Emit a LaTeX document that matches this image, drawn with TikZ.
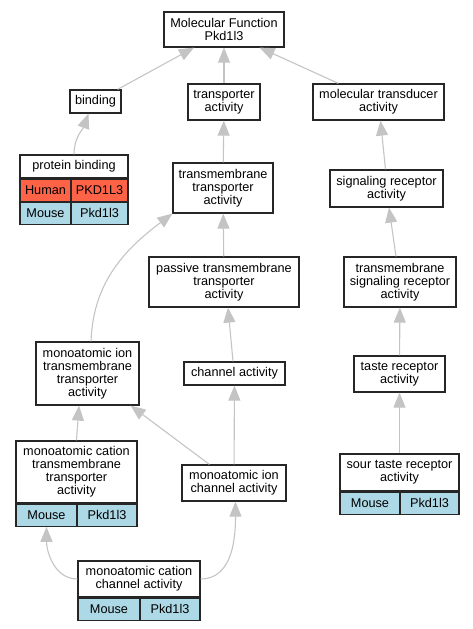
\documentclass[tikz,border=0pt]{standalone}
\usepackage{fontspec}
\setmainfont{Liberation Sans}
\usepackage{tikz}
\usepackage{xcolor}
\usetikzlibrary{calc}
\usetikzlibrary{arrows.meta}
\definecolor{humancolor}{HTML}{FF6347}
\definecolor{mousecolor}{HTML}{ADD8E6}
\definecolor{edgecolorb}{HTML}{C4C4C4}
\colorlet{bordercolor}{black!85}
\colorlet{edgecolor}{edgecolorb}
\tikzstyle{term} = [
    draw=bordercolor,
    fill=white,
    line width=1.2pt,
    rectangle,
    align=center,
    inner sep=2pt,
    font=\fontsize{12.7}{13}\selectfont
    ]
\tikzstyle{cell} = [
    term,
    minimum height=22pt
    ]
\tikzstyle{human} = [cell, fill=humancolor]
\tikzstyle{mouse} = [cell, fill=mousecolor]
\tikzstyle{isa} = [
    draw=edgecolor,
    line width=1.1pt,
    -{Triangle[length=15pt,width=12pt]}
    ]

\begin{document}
\begin{tikzpicture}[x=1pt,y=-1pt]
\useasboundingbox (0,0) rectangle (473,629);

% terms
\node[term, minimum width=120, minimum height=35] (mf) at (224,29.5) {Molecular Function\\Pkd1l3};
\node[term, minimum width=51, minimum height=23] (binding) at (95.5,101.5) {binding};
\node[term, minimum width=72, minimum height=36] (transporter) at (224,102) {transporter\\activity};
\node[term, minimum width=131, minimum height=36] (transducer) at (378.5,102) {molecular transducer\\activity};
\node[term, minimum width=100, minimum height=50] (tmtransporter) at (223,188) {transmembrane\\transporter\\activity};
\node[term, minimum width=113, minimum height=37] (sigrec) at (386.5,188.5) {signaling receptor\\activity};
\node[term, minimum width=150, minimum height=50] (passive) at (224,282) {passive transmembrane\\transporter\\activity};
\node[term, minimum width=112, minimum height=50] (tmsigrec) at (400,282) {transmembrane\\signaling receptor\\activity};
\node[term, minimum width=103, minimum height=63] (iontm) at (87.5,373.5) {monoatomic ion\\transmembrane\\transporter\\activity};
\node[term, minimum width=101, minimum height=23] (channel) at (234.5,373.5) {channel activity};
\node[term, minimum width=91, minimum height=36] (taste) at (399.5,374) {taste receptor\\activity};
\node[term, minimum width=104, minimum height=36] (ionchannel) at (234,483) {monoatomic ion\\channel activity};

% terms with genes
\node[term, minimum width=108, minimum height=23] (protbind) at (74,166.5) {protein binding};
\node[human, minimum width=51, anchor=north west] (protbindhs) at (protbind.south west) {Human};
\node[human, minimum width=57, anchor=north east] (protbindhsg) at (protbind.south east) {PKD1L3};
\node[mouse, minimum width=51, anchor=north west] (protbindmm) at (protbindhs.south west) {Mouse};
\node[mouse, minimum width=57, anchor=north east] (protbindmmg) at (protbindhsg.south east) {Pkd1l3};

\node[term, minimum width=121, minimum height=62] (cationtm) at (76.5,472) {monoatomic cation\\transmembrane\\transporter\\activity};
\node[mouse, minimum width=61, anchor=north west] (cationtmmm) at (cationtm.south west) {Mouse};
\node[mouse, minimum width=60, anchor=north east] (cationtmmmg) at (cationtm.south east) {Pkd1l3};

\node[term, minimum width=119, minimum height=37] (sour) at (399.5,472.5) {sour taste receptor\\activity};
\node[mouse, minimum width=60, anchor=north west] (sourmm) at (sour.south west) {Mouse};
\node[mouse, minimum width=59, anchor=north east] (sourmmg) at (sour.south east) {Pkd1l3};

\node[term, minimum width=122, minimum height=36] (cationchannel) at (139,579) {monoatomic cation\\channel activity};
\node[mouse, minimum width=62, anchor=north west] (cationchannelmm) at (cationchannel.south west) {Mouse};
\node[mouse, minimum width=60, anchor=north east] (cationchannelmmg) at (cationchannel.south east) {Pkd1l3};

% is_a edges
\draw[isa] ([xshift=-4]binding.north east) -- ([xshift=-30]mf.south);
\draw[isa] (transporter) -- (mf);
\draw[isa] ([xshift=26]transducer.north west) -- ([xshift=-25]mf.south east);
\draw[isa] (protbind.north) to[out=90,in=-110] ([xshift=-7]binding.south);
\draw[isa] (tmtransporter) -- (transporter);
\draw[isa] ([xshift=-1]sigrec.north) -- ([xshift=2]transducer.south);
\draw[isa] (passive) -- (tmtransporter);
\draw[isa] ([xshift=-4]tmsigrec.north) -- ([xshift=2.5]sigrec.south);
\draw[isa] ([xshift=3.5]iontm.north) to[out=88,in=-143] (tmtransporter.south west);
\draw[isa] ([xshift=-1.5]channel.north) -- ([xshift=4]passive.south);
\draw[isa] (taste) -- (tmsigrec);
\draw[isa] (cationtm.north) -- ([xshift=-8.5]iontm.south);
\draw[isa] ([xshift=28]ionchannel.north west) -- ([xshift=-9]iontm.south east);
\draw[isa] (ionchannel) -- (channel);
\draw[isa] (sour) -- (taste);
\draw[isa] (cationchannel.west) to[out=180,in=-90] (cationtmmm.south);
\draw[isa] (cationchannel.east) to[out=0,in=-90] ([xshift=1.5]ionchannel.south);
\end{tikzpicture}
\end{document}
